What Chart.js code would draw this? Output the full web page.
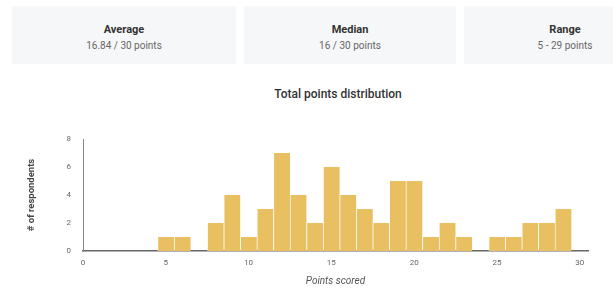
<!DOCTYPE html>
<html>
<head>
<meta charset="utf-8">
<script src="https://cdn.jsdelivr.net/npm/chart.js@4"></script>
<style>
  body { margin: 0; width: 613px; height: 291px; background: #fff; font-family: Roboto, "Noto Sans", sans-serif; overflow: hidden; position: relative; }
  .card { position: absolute; top: 6px; height: 58px; background: #f6f7f9; text-align: center; }
  .card .t { font-size: 11px; line-height: 13px; font-weight: 700; color: #333; margin-top: 17px; }
  .card .v { font-size: 10px; line-height: 12px; color: #666; margin-top: 4px; }
  #title { position: absolute; top: 87px; left: 0; width: 676px; text-align: center; font-size: 12px; font-weight: 500; color: #333; }
  #wrap { position: absolute; left: 0; top: 120px; width: 613px; height: 171px; }
</style>
</head>
<body>
<div class="card" style="left:12px;width:224px"><div class="t">Average</div><div class="v">16.84 / 30 points</div></div>
<div class="card" style="left:244px;width:212px"><div class="t">Median</div><div class="v">16 / 30 points</div></div>
<div class="card" style="left:464px;width:202px"><div class="t">Range</div><div class="v">5 - 29 points</div></div>
<div id="title">Total points distribution</div>
<div id="wrap"><canvas id="myChart"></canvas></div>
<script>
// histogram data
const scores = [5, 6, 8, 9, 10, 11, 12, 13, 14, 15, 16, 17, 18, 19, 20, 21, 22, 23, 25, 26, 27, 28, 29];
const respondents = [1, 1, 2, 4, 1, 3, 7, 4, 2, 6, 4, 3, 2, 5, 5, 1, 2, 1, 1, 1, 2, 2, 3];
const xTicks = [0, 5, 10, 15, 20, 25, 30];
const yTicks = [0, 2, 4, 6, 8];

const ctx = document.getElementById("myChart");

new Chart(ctx, {
  type: "bar",
  data: {
    datasets: [
      {
        data: scores.map((s, i) => ({ x: s, y: respondents[i] })),
        backgroundColor: "#e8c062",
        borderColor: "rgba(255,255,255,0.45)",
        borderWidth: { left: 1, right: 0, top: 0, bottom: 0 },
        barPercentage: 1,
        categoryPercentage: 1,
      },
    ],
  },
  options: {
    responsive: true,
    maintainAspectRatio: false,
    animation: false,
    layout: { padding: { left: 22, right: 25, top: 19, bottom: 0 } },
    plugins: { legend: { display: false }, tooltip: { enabled: false } },
    scales: {
      x: {
        type: "linear",
        offset: false,
        min: 0,
        max: 30.5,
        afterBuildTicks: (s) => { s.ticks = xTicks.map((v) => ({ value: v })); },
        grid: { display: false, drawTicks: false },
        border: { color: "#666", width: 1.5 },
        ticks: { color: "#666", font: { size: 8, family: "Roboto" }, padding: 7 },
        title: { display: true, text: "Points scored", color: "#555", font: { size: 10, style: "italic", family: "Roboto" }, padding: { top: 1 } },
        afterFit: (s) => { s.height = 40; },
      },
      y: {
        min: 0,
        max: 8,
        afterBuildTicks: (s) => { s.ticks = yTicks.map((v) => ({ value: v })); },
        grid: { display: false, drawTicks: false },
        border: { display: true, color: "#888", width: 1 },
        ticks: { color: "#666", font: { size: 8, family: "Roboto" }, padding: 12 },
        title: { display: true, text: "# of respondents", color: "#444", font: { size: 9.5, weight: "bold", family: "Roboto" } },
        afterFit: (s) => { s.width = 61; },
      },
    },
  },
});
</script>
</body>
</html>
